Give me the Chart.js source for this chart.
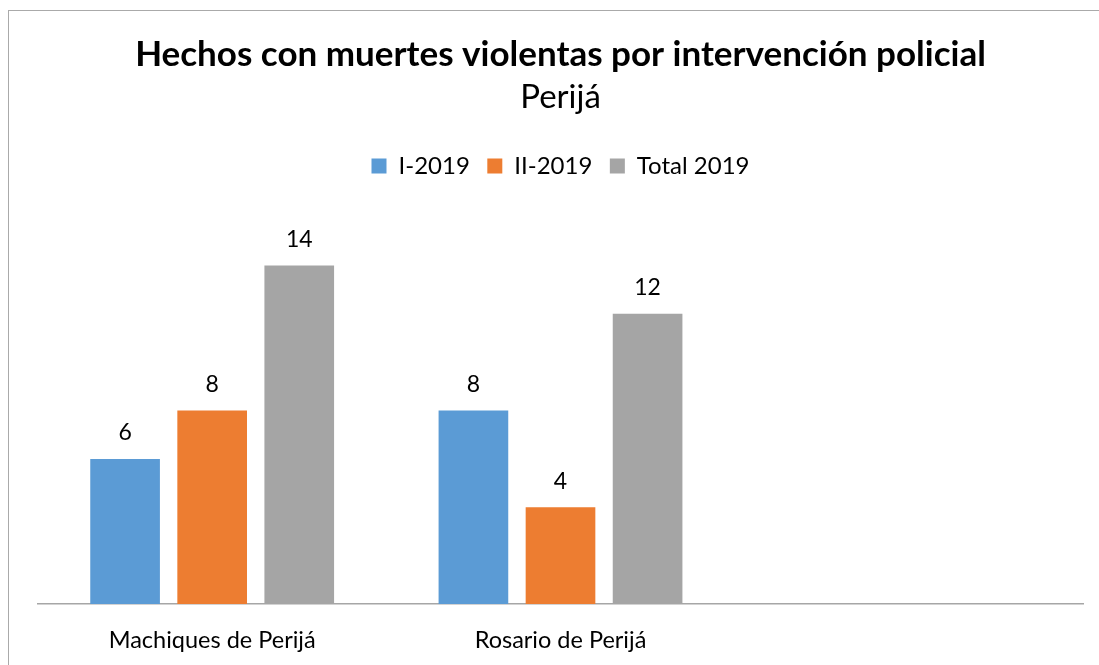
<!DOCTYPE html>
<html>
<head>
<meta charset="utf-8">
<script src="https://cdn.jsdelivr.net/npm/chart.js@4.4.1/dist/chart.umd.min.js"></script>
<style>
  html, body { margin: 0; padding: 0; background: #fff; overflow: hidden; }
  #wrap { position: relative; width: 1099px; height: 665px; }
  #frame { position: absolute; left: 8px; top: 10px; right: -2px; bottom: -2px; border-left: 1.5px solid #aaaaaa; border-top: 1.5px solid #aaaaaa; pointer-events: none; }
  canvas { position: absolute; left: 0; top: 0; }
</style>
</head>
<body>
<div id="wrap">
  <canvas id="c" width="1099" height="665"></canvas>
  <div id="frame"></div>
</div>
<script>
const categories = ["Machiques de Perijá", "Rosario de Perijá", ""];
const seriesNames = ["I-2019", "II-2019", "Total 2019"];
const seriesI = [6, 8, null];
const seriesII = [8, 4, null];
const seriesTotal = [14, 12, null];
const colors = ["#5B9BD5", "#ED7D31", "#A5A5A5"];

const FONT = "Lato, 'Open Sans', sans-serif";

const valueLabels = {
  id: 'valueLabels',
  afterDatasetsDraw(chart) {
    const ctx = chart.ctx;
    ctx.save();
    ctx.font = "23px " + FONT;
    ctx.fillStyle = "#000";
    ctx.textAlign = "center";
    ctx.textBaseline = "middle";
    chart.data.datasets.forEach((ds, i) => {
      const meta = chart.getDatasetMeta(i);
      meta.data.forEach((bar, j) => {
        const v = ds.data[j];
        if (v === null || v === undefined) return;
        ctx.fillText(String(v), bar.x, bar.y - 26);
      });
    });
    ctx.restore();
  }
};

new Chart(document.getElementById('c'), {
  type: 'bar',
  data: {
    labels: categories,
    datasets: [
      { label: seriesNames[0], data: seriesI, backgroundColor: colors[0] },
      { label: seriesNames[1], data: seriesII, backgroundColor: colors[1] },
      { label: seriesNames[2], data: seriesTotal, backgroundColor: colors[2] }
    ]
  },
  options: {
    responsive: false,
    animation: false,
    devicePixelRatio: 1,
    layout: { padding: { left: 38, right: 16, top: 0, bottom: -11 } },
    datasets: { bar: { categoryPercentage: 0.75, barPercentage: 0.8 } },
    scales: {
      x: {
        grid: { display: false, drawTicks: false },
        border: { display: true, color: '#a6a6a6', width: 1.5 },
        ticks: { color: '#000', font: { family: FONT, size: 23.5 }, padding: 21.9 }
      },
      y: {
        display: false,
        min: 0,
        max: 17.2
      }
    },
    plugins: {
      title: {
        display: true,
        text: "Hechos con muertes violentas por intervención policial",
        color: '#000',
        font: { family: FONT, size: 35, weight: 'bold' },
        padding: { top: 34, bottom: 2 }
      },
      subtitle: {
        display: true,
        text: "Perijá",
        color: '#000',
        font: { family: FONT, size: 33, weight: 'normal' },
        padding: { top: 0, bottom: 18.9 }
      },
      legend: {
        display: true,
        position: 'top',
        labels: {
          color: '#000',
          font: { family: FONT, size: 24 },
          boxWidth: 15,
          boxHeight: 15,
          padding: 17.5
        }
      },
      tooltip: { enabled: false }
    }
  },
  plugins: [valueLabels]
});
</script>
</body>
</html>
